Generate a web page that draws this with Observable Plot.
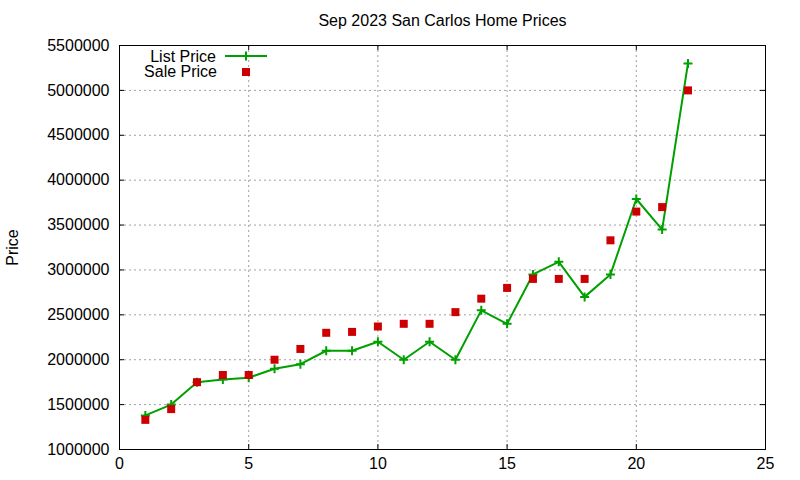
<!DOCTYPE html>
<html><head><meta charset="utf-8">
<script src="https://cdn.jsdelivr.net/npm/d3@7"></script>
<script src="https://cdn.jsdelivr.net/npm/@observablehq/plot@0.6"></script>
<style>
body{margin:0;background:#fff}
#chart{position:relative;width:800px;height:480px}
</style>
</head><body><div id="chart"></div>
<script>
const title = "Sep 2023 San Carlos Home Prices";
const yLabel = "Price";
const seriesNames = ["List Price", "Sale Price"];
const homes = [1,2,3,4,5,6,7,8,9,10,11,12,13,14,15,16,17,18,19,20,21,22];
const listPrice = [1380000,1500000,1750000,1780000,1800000,1900000,1950000,2100000,2100000,2200000,2000000,2200000,2000000,2550000,2400000,2950000,3090000,2700000,2950000,3790000,3450000,5300000];
const salePrice = [1330000,1450000,1750000,1830000,1830000,2000000,2120000,2300000,2310000,2370000,2400000,2400000,2530000,2680000,2800000,2900000,2900000,2900000,3330000,3650000,3700000,5000000];
const xTicks = [0,5,10,15,20,25];
const yTicks = [1000000,1500000,2000000,2500000,3000000,3500000,4000000,4500000,5000000,5500000];

const listColor = "#00a000";
const saleColor = "#cc0000";
const font = "'Liberation Sans', Arial, sans-serif";

const listData = homes.map((h, i) => ({home: h, price: listPrice[i]}));
const saleData = homes.map((h, i) => ({home: h, price: salePrice[i]}));

const plusSymbol = {draw(ctx, size) { const r = Math.sqrt(size / Math.PI); ctx.moveTo(-r, 0); ctx.lineTo(r, 0); ctx.moveTo(0, -r); ctx.lineTo(0, r); }};
const squareSymbol = {draw(ctx, size) { const r = Math.sqrt(size / Math.PI); ctx.rect(-r, -r, 2 * r, 2 * r); }};

const W = 800, H = 480, mL = 119, mR = 35, mT = 45, mB = 31;
const fw = W - mL - mR, fh = H - mT - mB, tk = 5;
const gridStyle = {stroke: "#a0a0a0", strokeOpacity: 1, strokeDasharray: "2,3", strokeWidth: 1};

const chart = Plot.plot({
  width: W, height: H,
  marginLeft: mL, marginRight: mR, marginTop: mT, marginBottom: mB,
  style: {fontFamily: font, fontSize: "16px", background: "#fff", color: "#000"},
  x: {domain: [0, 25], ticks: xTicks},
  y: {domain: [1000000, 5500000], ticks: yTicks},
  marks: [
    Plot.gridX(xTicks.slice(1, -1), gridStyle),
    Plot.gridY(yTicks.slice(1, -1), gridStyle),
    Plot.ruleY(yTicks, {stroke: "#000", insetRight: fw - tk}),
    Plot.ruleY(yTicks, {stroke: "#000", insetLeft: fw - tk}),
    Plot.ruleX(xTicks, {stroke: "#000", insetTop: fh - tk}),
    Plot.ruleX(xTicks, {stroke: "#000", insetBottom: fh - tk}),
    Plot.axisY(yTicks, {tickSize: 0, tickPadding: 10, tickFormat: d3.format("d"), label: null, fontSize: 16}),
    Plot.axisX(xTicks, {tickSize: 0, tickPadding: 8, tickFormat: d3.format("d"), label: null, fontSize: 16}),
    Plot.line(listData, {x: "home", y: "price", stroke: listColor, strokeWidth: 2}),
    Plot.dot(listData, {x: "home", y: "price", symbol: plusSymbol, r: 4.5, stroke: listColor, strokeWidth: 2}),
    Plot.dot(saleData, {x: "home", y: "price", symbol: squareSymbol, r: 4, fill: saleColor, stroke: "none"}),
    Plot.frame({stroke: "#000", strokeWidth: 1}),
    Plot.text([title], {frameAnchor: "top", dy: -25, lineAnchor: "middle", fontSize: 16, fill: "#000"}),
    Plot.text([yLabel], {frameAnchor: "left", dx: -107, rotate: -90, lineAnchor: "middle", textAnchor: "middle", fontSize: 16, fill: "#000"})
  ]
});
document.getElementById("chart").appendChild(chart);

// Legend (inside plot, top-left, gnuplot style)
const svg = d3.select(chart);
const leg = svg.append("g").attr("font-family", font).attr("font-size", 16);
const rowsY = [mT + 11, mT + 26];
leg.append("text").attr("x", 216).attr("y", rowsY[0]).attr("dy", "0.35em").attr("text-anchor", "end").text(seriesNames[0]);
leg.append("text").attr("x", 217).attr("y", rowsY[1]).attr("dy", "0.35em").attr("text-anchor", "end").text(seriesNames[1]);
leg.append("line").attr("x1", 225).attr("x2", 267).attr("y1", rowsY[0]).attr("y2", rowsY[0]).attr("stroke", listColor).attr("stroke-width", 2);
leg.append("path").attr("d", `M${246-4.5},${rowsY[0]}h9M246,${rowsY[0]-4.5}v9`).attr("stroke", listColor).attr("stroke-width", 2);
leg.append("rect").attr("x", 242).attr("y", rowsY[1] + 1 - 4).attr("width", 8).attr("height", 8).attr("fill", saleColor);
</script>
</body></html>
